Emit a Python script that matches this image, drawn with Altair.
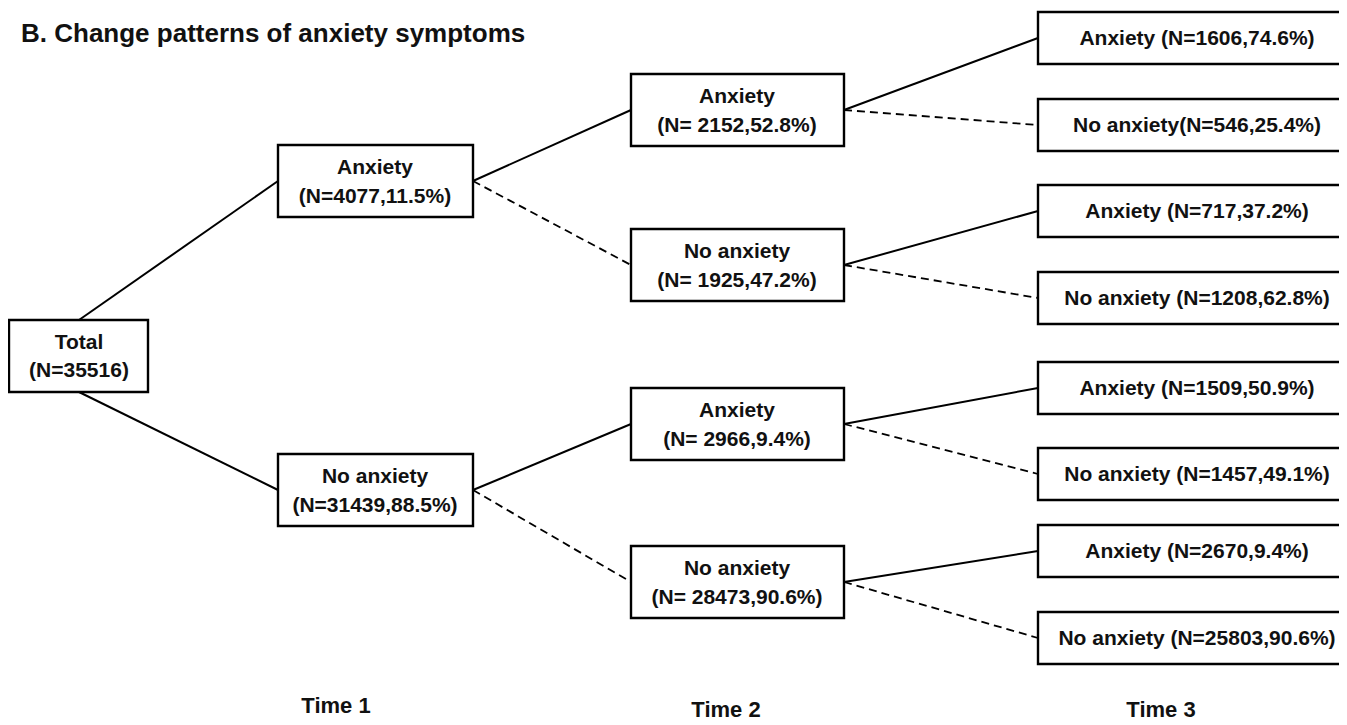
import altair as alt
import pandas as pd

# ---------------- data ----------------
title_text = "B. Change patterns of anxiety symptoms"
time_labels = ["Time 1", "Time 2", "Time 3"]

total_n = 35516
t1_status = ["Anxiety", "No anxiety"]
t1_n = [4077, 31439]
t1_pct = [11.5, 88.5]
t2_status = ["Anxiety", "No anxiety", "Anxiety", "No anxiety"]
t2_n = [2152, 1925, 2966, 28473]
t2_pct = [52.8, 47.2, 9.4, 90.6]
t3_status = ["Anxiety", "No anxiety", "Anxiety", "No anxiety",
             "Anxiety", "No anxiety", "Anxiety", "No anxiety"]
t3_n = [1606, 546, 717, 1208, 1509, 1457, 2670, 25803]
t3_pct = [74.6, 25.4, 37.2, 62.8, 50.9, 49.1, 9.4, 90.6]

# ---------------- layout (reference pixel frame) ----------------
col_left = [9, 278, 631, 1038]
col_right = [148, 473, 844, 1350]
text_cx = [79, 375, 737, 1197]
total_yc = 356
t1_yc = [181, 490]
t2_yc = [110, 265, 424, 582]
t3_yc = [38, 125, 211, 298, 388, 474, 551, 638]
tall_h = 72
short_h = 52
time_x = [336, 726, 1161]
time_y = [706, 710, 710]

# ---------------- build tables ----------------
boxes = []
texts = []
edges = []


def add_box(col, yc, h, lines, offsets):
    boxes.append(dict(x=col_left[col], x2=col_right[col], y=yc - h / 2, y2=yc + h / 2))
    for ln, off in zip(lines, offsets):
        texts.append(dict(x=text_cx[col], y=yc + off, t=ln))


add_box(0, total_yc, tall_h, ["Total", f"(N={total_n})"], [-13, 15])
for s, n, p, yc in zip(t1_status, t1_n, t1_pct, t1_yc):
    add_box(1, yc, tall_h, [s, f"(N={n},{p}%)"], [-13, 16])
for s, n, p, yc in zip(t2_status, t2_n, t2_pct, t2_yc):
    add_box(2, yc, tall_h, [s, f"(N= {n},{p}%)"], [-13, 16])
for i, (s, n, p, yc) in enumerate(zip(t3_status, t3_n, t3_pct, t3_yc)):
    sep = "" if i == 1 else " "
    add_box(3, yc, short_h, [f"{s}{sep}(N={n},{p}%)"], [1])

# edges: Total -> T1
edges.append(dict(x=79, y=total_yc - tall_h / 2, x2=col_left[1], y2=t1_yc[0], dash="solid"))
edges.append(dict(x=79, y=total_yc + tall_h / 2, x2=col_left[1], y2=t1_yc[1], dash="solid"))
# T1 -> T2
for i, yc in enumerate(t1_yc):
    for j in range(2):
        edges.append(dict(x=col_right[1], y=yc, x2=col_left[2], y2=t2_yc[2 * i + j],
                          dash="solid" if j == 0 else "dashed"))
# T2 -> T3
for i, yc in enumerate(t2_yc):
    for j in range(2):
        edges.append(dict(x=col_right[2], y=yc, x2=col_left[3], y2=t3_yc[2 * i + j],
                          dash="solid" if j == 0 else "dashed"))

boxes_df = pd.DataFrame(boxes)
texts_df = pd.DataFrame(texts)
edges_df = pd.DataFrame(edges)
time_df = pd.DataFrame(dict(x=time_x, y=time_y, t=time_labels))
title_df = pd.DataFrame(dict(x=[21], y=[34], t=[title_text]))

W, H = 1331, 709
xs = alt.Scale(domain=[8, 8 + W], nice=False, zero=False)
ys = alt.Scale(domain=[8, 8 + H], nice=False, zero=False, reverse=True)
FONT = "Liberation Sans"

X = lambda f: alt.X(f, type="quantitative", scale=xs, axis=None)
Y = lambda f: alt.Y(f, type="quantitative", scale=ys, axis=None)

solid = alt.Chart(edges_df[edges_df.dash == "solid"]).mark_rule(
    color="black", strokeWidth=2
).encode(x=X("x"), y=Y("y"), x2="x2", y2="y2")

dashed = alt.Chart(edges_df[edges_df.dash == "dashed"]).mark_rule(
    color="black", strokeWidth=1.8, strokeDash=[8, 5]
).encode(x=X("x"), y=Y("y"), x2="x2", y2="y2")

rects = alt.Chart(boxes_df).mark_rect(
    fill="white", stroke="black", strokeWidth=2.4, clip=True
).encode(x=X("x"), x2="x2", y=Y("y"), y2="y2")

labels = alt.Chart(texts_df).mark_text(
    font=FONT, fontSize=21, fontWeight="bold", color="#111", align="center", baseline="middle"
).encode(x=X("x"), y=Y("y"), text="t:N")

times = alt.Chart(time_df).mark_text(
    font=FONT, fontSize=22, fontWeight="bold", color="#111", align="center", baseline="middle"
).encode(x=X("x"), y=Y("y"), text="t:N")

title = alt.Chart(title_df).mark_text(
    font=FONT, fontSize=26, fontWeight="bold", color="#111", align="left", baseline="middle"
).encode(x=X("x"), y=Y("y"), text="t:N")

chart = alt.layer(solid, dashed, rects, labels, times, title).properties(
    width=W, height=H, padding=0, background="white"
).configure_view(stroke=None)

chart.save("out.html", embed_options={"renderer": "svg", "actions": False})
